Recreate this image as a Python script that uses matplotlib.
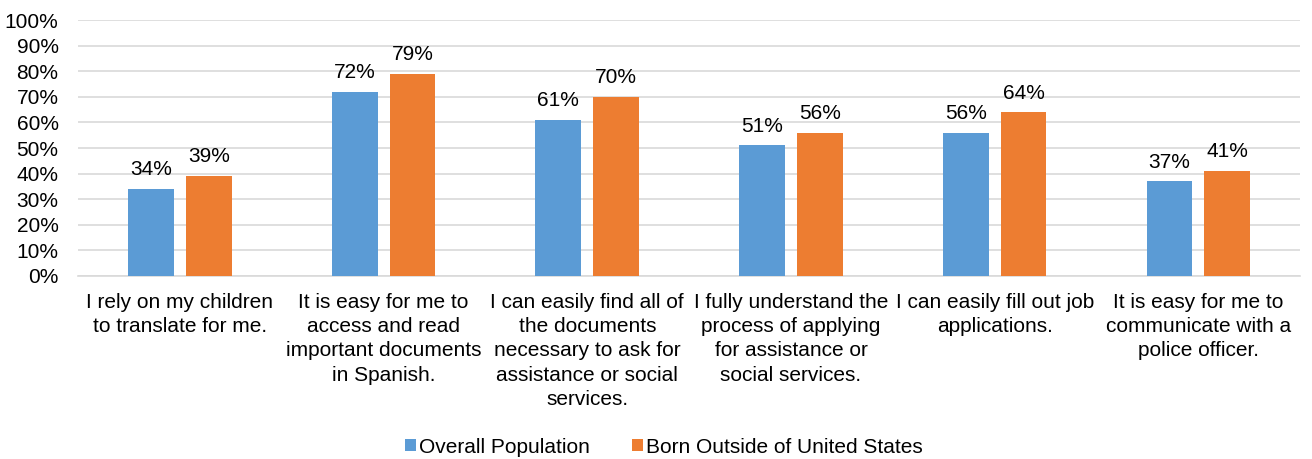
import numpy as np
import matplotlib.pyplot as plt

plt.rcParams['font.family'] = ['Liberation Sans', 'DejaVu Sans']

categories = [
    "I rely on my children\nto translate for me.",
    "It is easy for me to\naccess and read\nimportant documents\nin Spanish.",
    "I can easily find all of\nthe documents\nnecessary to ask for\nassistance or social\nservices.",
    "I fully understand the\nprocess of applying\nfor assistance or\nsocial services.",
    "I can easily fill out job\napplications.",
    "It is easy for me to\ncommunicate with a\npolice officer.",
]
overall = [34, 72, 61, 51, 56, 37]
born_outside = [39, 79, 70, 56, 64, 41]
series_names = ["Overall Population", "Born Outside of United States"]

blue = '#5B9BD5'
orange = '#ED7D31'
fs = 15

fig = plt.figure(figsize=(13.12, 4.59), dpi=100)
ax = fig.add_axes([0.0595, 0.399, 0.9315, 0.557])

x = np.arange(len(categories))
w = 0.225
off = 0.142
b1 = ax.bar(x - off, overall, w, color=blue, label=series_names[0], zorder=3)
b2 = ax.bar(x + off, born_outside, w, color=orange, label=series_names[1], zorder=3)

# data labels above bars
for bars, vals in ((b1, overall), (b2, born_outside)):
    for rect, v in zip(bars, vals):
        ax.annotate(f"{v}%", (rect.get_x() + rect.get_width() / 2, v),
                    xytext=(0, 7), textcoords='offset points',
                    ha='center', va='bottom', fontsize=fs, color='#000000')

ax.set_xlim(-0.5, len(categories) - 0.5)
ax.set_ylim(0, 100)
ax.set_yticks(np.arange(0, 101, 10))
ax.set_yticklabels([f"{t}%" for t in range(0, 101, 10)], fontsize=fs)
ax.set_xticks(x)
ax.set_xticklabels(categories, fontsize=fs, linespacing=1.36)
ax.tick_params(axis='x', length=0, pad=12)
ax.tick_params(axis='y', length=0, pad=14)

ax.grid(axis='y', color='#D9D9D9', linewidth=1.2, zorder=0)
for s in ['top', 'right', 'left']:
    ax.spines[s].set_visible(False)
ax.spines['bottom'].set_color('#D9D9D9')
ax.spines['bottom'].set_linewidth(1.2)

fig.legend(handles=[b1, b2], labels=series_names, loc='center',
           bbox_to_anchor=(0.506, 0.026), ncol=2, frameon=False,
           fontsize=fs, handlelength=0.55, handleheight=0.55,
           handletextpad=0.15, columnspacing=2.0)

fig.savefig('out.png', dpi=100)
